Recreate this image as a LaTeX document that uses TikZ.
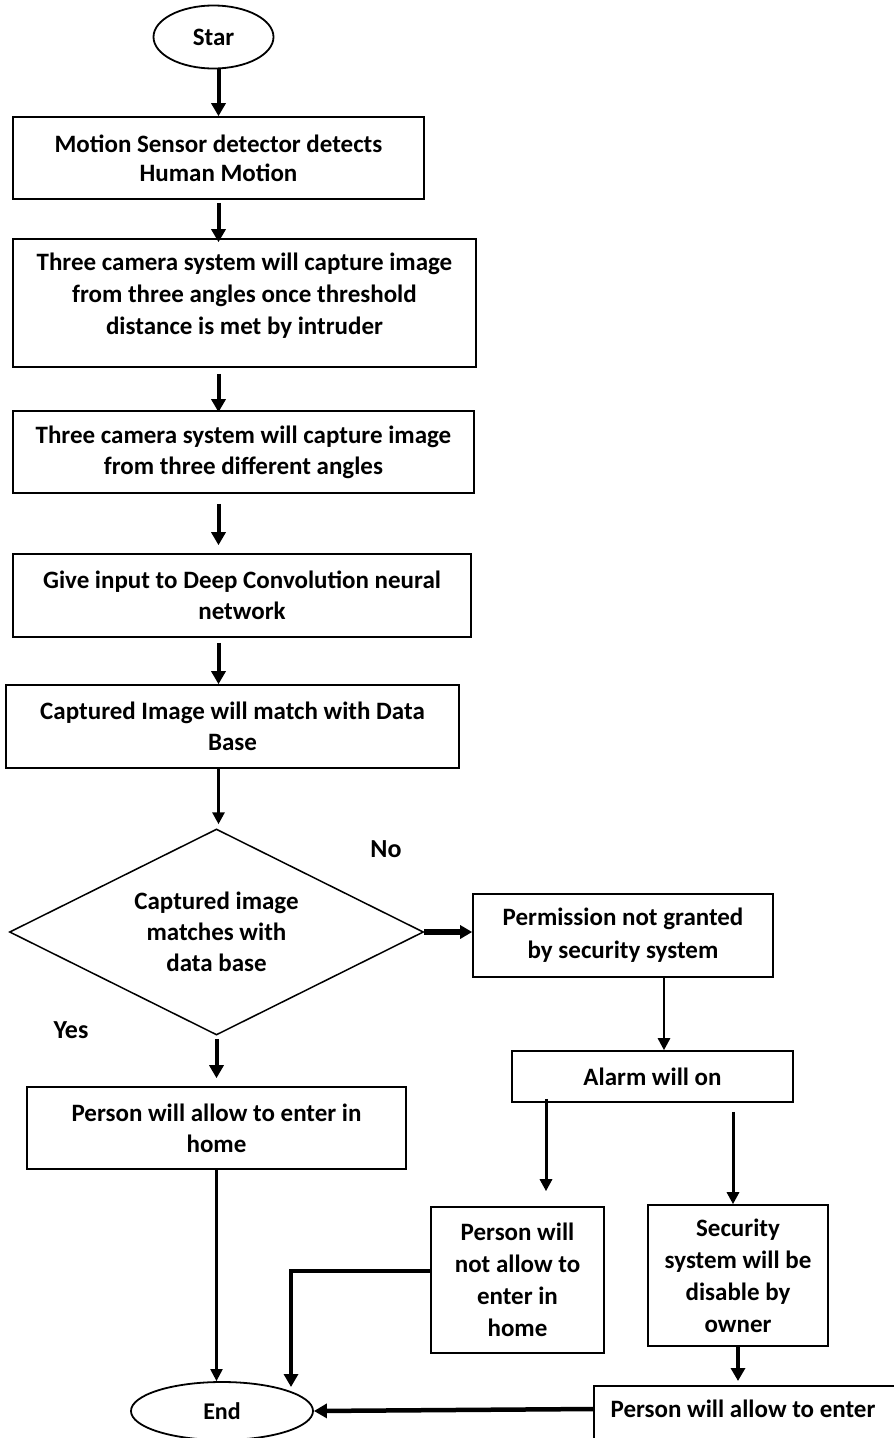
\documentclass[tikz,border=0pt]{standalone}
\usepackage{fontspec}
\setmainfont{Carlito}
\usetikzlibrary{shapes.geometric,arrows.meta,calc}
\begin{document}
\begin{tikzpicture}[x=1pt,y=-1pt,
  every node/.style={font=\fontsize{25}{31}\selectfont\bfseries, align=center, inner sep=0pt},
  box/.style={draw, line width=1.6pt, rectangle},
  oval/.style={draw, line width=1.8pt, ellipse},
  arr/.style={-{Triangle[width=14pt,length=13pt]}, line width=4pt},
  tarr/.style={-{Triangle[width=12pt,length=12pt]}, line width=2.6pt},
]
\useasboundingbox (0,0) rectangle (894,1438);
\clip (0,0) rectangle (894,1438);

% nodes
\node[oval, minimum width=120, minimum height=63, font=\fontsize{25}{28}\selectfont\bfseries] (start) at (213.5,37) {Star};
\node[box, minimum width=411, minimum height=82, font=\fontsize{25}{29}\selectfont\bfseries] (b1) at (218.5,158) {Motion Sensor detector detects\\Human Motion};
\node[box, minimum width=463, minimum height=128] (b2) at (244.5,303) {};
\node[font=\fontsize{25}{32}\selectfont\bfseries] (b2t) at (244.5,296) {Three camera system will capture image\\from three angles once threshold\\distance is met by intruder};
\node[box, minimum width=461, minimum height=82] (b3) at (243.5,452) {Three camera system will capture image\\from three different angles};
\node[box, minimum width=458, minimum height=83] (b4) at (242,595.5) {Give input to Deep Convolution neural\\network};
\node[box, minimum width=453, minimum height=83] (b5) at (232.5,726.5) {Captured Image will match with Data\\Base};
\node[draw, diamond, aspect=2, line width=1.5pt, minimum width=414, minimum height=206] (dec) at (216.5,932) {Captured image\\matches with\\data base};
\node[font=\fontsize{26}{30}\selectfont\bfseries] (no) at (386,849) {No};
\node[font=\fontsize{26}{30}\selectfont\bfseries] (yes) at (71,1030) {Yes};
\node[box, minimum width=300, minimum height=83, font=\fontsize{25}{33}\selectfont\bfseries] (perm) at (623,935.5) {Permission not granted\\by security system};
\node[box, minimum width=281, minimum height=51] (alarm) at (652.5,1076.5) {Alarm will on};
\node[box, minimum width=379, minimum height=82] (allow) at (216.5,1128) {Person will allow to enter in\\home};
\node[box, minimum width=173, minimum height=146, font=\fontsize{25}{32}\selectfont\bfseries] (notallow) at (517.5,1280) {Person will\\not allow to\\enter in\\home};
\node[box, minimum width=180, minimum height=141, font=\fontsize{25}{32}\selectfont\bfseries] (secur) at (738,1275.5) {Security\\system will be\\disable by\\owner};
\node[box, anchor=north west, minimum width=320, minimum height=90] (final) at (593,1385) {};
\node (finalt) at (743,1409) {Person will allow to enter};
\node[oval, minimum width=182, minimum height=58, font=\fontsize{24}{28}\selectfont\bfseries] (end) at (222,1411) {End};

% helper coordinates
\coordinate (endin) at ($(end.center)+(69,-24)$);
\coordinate (pa) at ($(perm.south)+(41,0)$);
\coordinate (al) at ($(alarm.south)+(-106.5,0)$);
\coordinate (ar) at ($(alarm.south)+(80.5,0)$);

% connectors
\draw[arr, shorten <=-1pt] (start.south -| b1.north) -- (b1.north);
\draw[arr, shorten <=3pt, shorten >=-4pt] (b1.south) -- (b1.south |- b2.north);
\draw[arr, shorten <=6pt, shorten >=-2pt] (b2.south -| b1.south) -- (b1.south |- b3.north);
\draw[arr, shorten <=10pt, shorten >=8pt] (b3.south -| b1.south) -- (b1.south |- b4.north);
\draw[arr, shorten <=5pt] (b4.south -| b1.south) -- (b1.south |- b5.north);
\draw[tarr, line width=3pt, shorten >=4pt] (b5.south -| b1.south) -- (b1.south |- dec.north);
\draw[-{Triangle[width=13pt,length=12pt]}, line width=6pt] (dec.east) -- (dec.east -| perm.west);
\draw[tarr] (pa) -- (pa |- alarm.north);
\draw[arr, shorten <=3pt, shorten >=8pt] (dec.south) -- (dec.south |- allow.north);
\draw[tarr, line width=2.2pt] (allow.south) -- (allow.south |- end.north);
\draw[tarr, line width=3pt, shorten <=-4pt, shorten >=15pt] (al) -- (al |- notallow.north);
\draw[tarr, line width=3pt, shorten <=9pt] (ar) -- (ar |- secur.north);
\draw[arr, line width=4.5pt] ($(notallow.west)+(0,-9)$) -| (endin);
\draw[arr, shorten >=4pt] (secur.south) -- (secur.south |- final.north);
\draw[arr, line width=4.5pt] (finalt -| final.west) -- (end.east);
\end{tikzpicture}
\end{document}
